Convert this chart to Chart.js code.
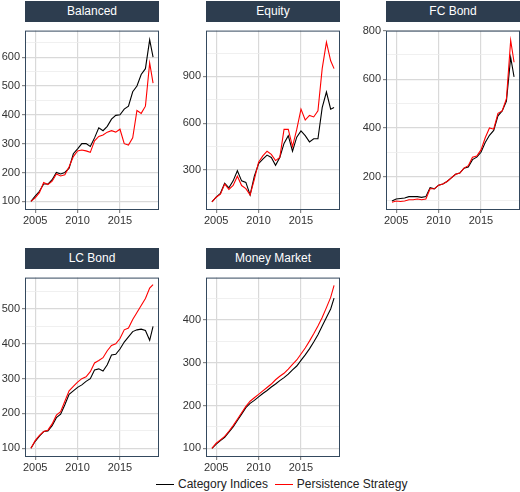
<!DOCTYPE html>
<html><head><meta charset="utf-8">
<script src="https://cdn.jsdelivr.net/npm/chart.js@4"></script>
<style>
body{margin:0;background:#fff;font-family:"Liberation Sans",Arial,sans-serif;}
#wrap{position:relative;width:520px;height:492px;overflow:hidden}
.hdr{position:absolute;height:21px;background:#2d3d4f;color:#fff;font-size:12px;text-align:center;line-height:21px}
canvas{position:absolute}
#leg{position:absolute;top:477px;left:156px;font-size:12px;color:#222;white-space:nowrap}
#leg span.l{display:inline-block;width:18px;height:0;border-top:1.5px solid #000;vertical-align:middle;margin:0 4px 0 0}
</style></head><body>
<div id="wrap"></div>
<script>
const years=[2004.5,2005,2005.5,2006,2006.5,2007,2007.5,2008,2008.5,2009,2009.5,2010,2010.5,2011,2011.5,2012,2012.5,2013,2013.5,2014,2014.5,2015,2015.5,2016,2016.5,2017,2017.5,2018,2018.5,2018.9];
const seriesNames=["Category Indices","Persistence Strategy"];
const balancedCat=[100,118,135,160,160,175,200,195,200,215,265,282,300,300,290,320,355,345,360,385,398,400,420,430,480,500,540,560,660,600];
const balancedPer=[100,112,130,165,158,170,195,188,192,220,255,275,278,275,270,310,325,330,340,345,340,350,300,295,320,415,405,430,580,510];
const equityCat=[95,125,150,215,185,230,295,230,220,140,260,340,370,395,380,330,380,470,520,420,510,550,520,480,500,500,700,800,690,700];
const equityPer=[95,125,145,210,175,200,260,200,180,140,240,350,390,420,400,360,380,560,560,450,560,690,620,650,640,680,950,1120,1000,950];
const fcCat=[100,108,110,112,118,118,118,115,118,155,150,165,170,180,195,210,215,235,240,270,280,300,340,370,390,450,470,510,690,610];
const fcPer=[95,100,98,100,105,105,108,105,108,150,150,165,170,180,195,210,215,235,245,280,285,310,360,400,395,460,470,520,760,670];
const lcCat=[100,120,135,148,150,165,188,198,225,255,265,275,282,292,300,325,328,322,340,368,370,385,405,420,435,440,442,438,410,450];
const lcPer=[100,122,137,148,152,170,195,205,235,265,278,290,300,305,320,345,352,360,380,395,400,415,440,445,470,490,510,530,560,570];
const mmCat=[100,110,118,126,138,150,165,180,195,205,212,220,228,235,243,250,258,265,273,283,292,305,318,332,348,365,385,405,425,450];
const mmPer=[100,112,120,128,140,153,168,183,198,210,218,226,234,242,250,260,268,275,285,296,306,320,334,350,367,385,405,428,452,480];
const xTicks=[2005,2010,2015];

const panels=[
 {t:"Balanced",a:balancedCat,b:balancedPer,x:25,y:22,min:70,max:692,step:100},
 {t:"Equity",a:equityCat,b:equityPer,x:206,y:22,min:43,max:1194,step:300},
 {t:"FC Bond",a:fcCat,b:fcPer,x:386,y:22,min:63,max:800,step:200},
 {t:"LC Bond",a:lcCat,b:lcPer,x:25,y:269,min:75,max:590,step:100},
 {t:"Money Market",a:mmCat,b:mmPer,x:206,y:269,min:80,max:498,step:100}
];
const W=134,H=188,AX=32,BX=20;
const wrap=document.getElementById('wrap');
const border={id:'border',afterDraw(c){const a=c.chartArea,x=c.ctx;x.save();x.strokeStyle='#34495e';x.lineWidth=1;x.strokeRect(a.left+0.5,a.top+0.5,a.width-1,a.height-1);x.restore();}};
panels.forEach(p=>{
  const h=document.createElement('div');h.className='hdr';
  h.style.left=p.x+'px';h.style.top=(p.y-21)+'px';h.style.width=W+'px';h.textContent=p.t;wrap.appendChild(h);
  const cv=document.createElement('canvas');
  cv.style.left=(p.x-AX)+'px';cv.style.top=p.y+'px';cv.style.width=(W+AX)+'px';cv.style.height=(H+BX)+'px';
  cv.width=(W+AX);cv.height=(H+BX);wrap.appendChild(cv);
  const half=p.step/2;
  new Chart(cv,{type:'line',plugins:[border],
    data:{datasets:[
      {label:seriesNames[1],data:years.map((x,i)=>({x,y:p.b[i]})),borderColor:'#ff0000',borderWidth:1.1,pointRadius:0,tension:0},
      {label:seriesNames[0],data:years.map((x,i)=>({x,y:p.a[i]})),borderColor:'#000',borderWidth:1.1,pointRadius:0,tension:0}
    ]},
    options:{responsive:false,animation:false,devicePixelRatio:1,
      layout:{padding:0},
      plugins:{legend:{display:false},tooltip:{enabled:false}},
      scales:{
        x:{type:'linear',min:2003.8,max:2019.6,
          afterBuildTicks(s){s.ticks=xTicks.map(v=>({value:v}));},
          afterFit(s){s.height=BX;},
          grid:{color:'#d9d9d9',lineWidth:1.2,tickLength:3,tickColor:'#888'},border:{display:false},
          ticks:{color:'#333',font:{size:11,family:'Liberation Sans'},padding:1,maxRotation:0,callback:v=>String(v)}},
        y:{min:p.min,max:p.max,
          afterBuildTicks(s){const t=[];for(let v=Math.ceil(p.min/half)*half;v<=p.max;v+=half)t.push({value:v});s.ticks=t;},
          afterFit(s){s.width=AX;},
          grid:{color:c=>c.tick&&c.tick.value%p.step===0?'#d9d9d9':'#ececec',lineWidth:c=>c.tick&&c.tick.value%p.step===0?1.2:0.8,
                tickLength:3,tickColor:c=>c.tick&&c.tick.value%p.step===0?'#888':'rgba(0,0,0,0)'},border:{display:false},
          ticks:{color:'#333',font:{size:11,family:'Liberation Sans'},padding:2,callback:v=>v%p.step===0?String(v):''}}
      }}});
});
const leg=document.createElement('div');leg.id='leg';
leg.innerHTML='<span class="l"></span>'+seriesNames[0]+'&nbsp;&nbsp;<span class="l" style="border-color:#f00"></span>'+seriesNames[1];
wrap.appendChild(leg);
</script></body></html>
